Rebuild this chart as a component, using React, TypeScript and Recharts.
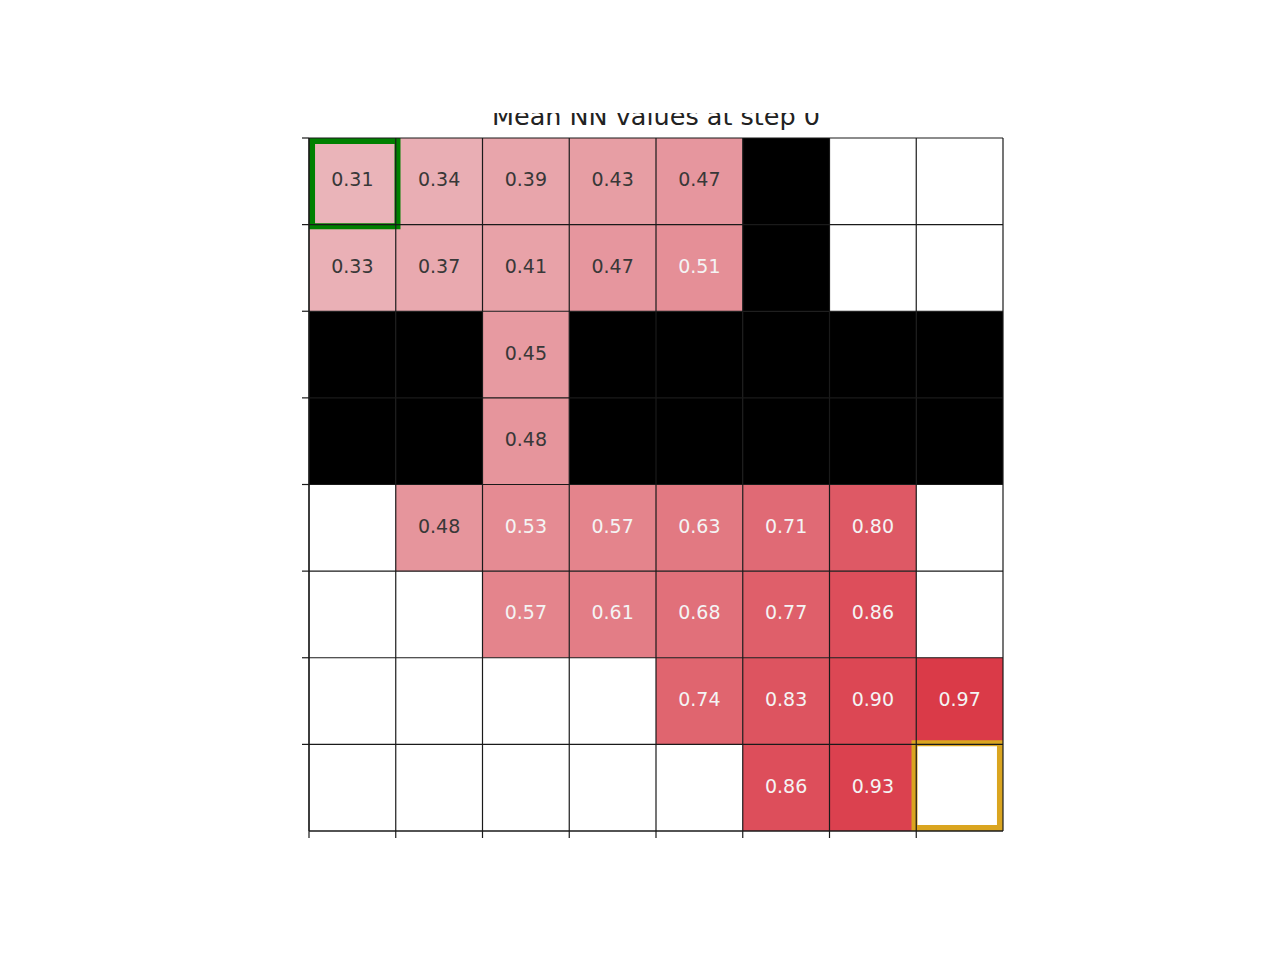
import React from 'react';
import { ScatterChart, XAxis, YAxis, ReferenceArea, ReferenceLine } from 'recharts';

const TITLE = 'Mean NN values at step 0';
const W = 'wall';
type Cell = number | 'wall' | null;

const row0: Cell[] = [0.31, 0.34, 0.39, 0.43, 0.47, W, null, null];
const row1: Cell[] = [0.33, 0.37, 0.41, 0.47, 0.51, W, null, null];
const row2: Cell[] = [W, W, 0.45, W, W, W, W, W];
const row3: Cell[] = [W, W, 0.48, W, W, W, W, W];
const row4: Cell[] = [null, 0.48, 0.53, 0.57, 0.63, 0.71, 0.80, null];
const row5: Cell[] = [null, null, 0.57, 0.61, 0.68, 0.77, 0.86, null];
const row6: Cell[] = [null, null, null, null, 0.74, 0.83, 0.90, 0.97];
const row7: Cell[] = [null, null, null, null, null, 0.86, 0.93, null];
const grid: Cell[][] = [row0, row1, row2, row3, row4, row5, row6, row7];

const axisTicks = [0, 1, 2, 3, 4, 5, 6, 7];
const gridLines = [0, 1, 2, 3, 4, 5, 6, 7, 8];

const startCell = { row: 0, col: 0 };
const goalCell = { row: 7, col: 7 };

const LO = [234, 180, 185];
const HI = [218, 58, 72];
const V_LO = 0.31;
const V_HI = 0.97;

function colorFor(v: number): string {
  const t = Math.max(0, Math.min(1, (v - V_LO) / (V_HI - V_LO)));
  const c = LO.map((a, i) => Math.round(a + (HI[i] - a) * t));
  return `rgb(${c[0]},${c[1]},${c[2]})`;
}

function makeLabel(text: string, color: string) {
  return (props: any) => {
    const vb = props.viewBox || {};
    const cx = (vb.x ?? 0) + (vb.width ?? 0) / 2;
    const cy = (vb.y ?? 0) + (vb.height ?? 0) / 2;
    return (
      <text
        x={cx}
        y={cy - 2}
        textAnchor="middle"
        dominantBaseline="central"
        fill={color}
        fontSize={19}
        fontFamily="DejaVu Sans"
      >
        {text}
      </text>
    );
  };
}

export default function App() {
  const areas: React.ReactNode[] = [];
  grid.forEach((row, r) => {
    row.forEach((cell, c) => {
      if (cell === null) return;
      if (cell === 'wall') {
        areas.push(
          <ReferenceArea key={`a${r}-${c}`} x1={c} x2={c + 1} y1={r} y2={r + 1} fill="#000" fillOpacity={1} stroke="none" />
        );
      } else {
        areas.push(
          <ReferenceArea
            key={`a${r}-${c}`}
            x1={c}
            x2={c + 1}
            y1={r}
            y2={r + 1}
            fill={colorFor(cell)}
            fillOpacity={1}
            stroke="none"
            label={{ content: makeLabel(cell.toFixed(2), cell >= 0.5 ? '#f4f4f4' : '#383838') }}
          />
        );
      }
    });
  });

  return (
    <div style={{ position: 'absolute', left: 0, top: 0, width: 1280, height: 960, background: '#fff' }}>
      <div
        style={{
          position: 'absolute',
          left: 309,
          top: 113,
          width: 694,
          height: 19,
          overflow: 'hidden',
        }}
      >
        <div
          style={{
            position: 'absolute',
            left: 0,
            top: -9,
            width: 694,
            textAlign: 'center',
            fontFamily: 'DejaVu Sans',
            fontSize: 25.5,
            lineHeight: '25px',
            color: '#222',
            whiteSpace: 'nowrap',
          }}
        >
          {TITLE}
        </div>
      </div>
      <ScatterChart width={1280} height={960} margin={{ top: 138, right: 277, bottom: 99, left: 279 }}>
        <XAxis
          type="number"
          dataKey="x"
          domain={[0, 8]}
          ticks={axisTicks}
          tickFormatter={() => ''}
          tickSize={7}
          height={30}
          axisLine={{ stroke: '#1a1a1a', strokeWidth: 1.2 }}
          tickLine={{ stroke: '#1a1a1a', strokeWidth: 1.2 }}
          allowDataOverflow
        />
        <YAxis
          type="number"
          dataKey="y"
          domain={[0, 8]}
          reversed
          ticks={axisTicks}
          tickFormatter={() => ''}
          tickSize={7}
          width={30}
          axisLine={{ stroke: '#1a1a1a', strokeWidth: 1.2 }}
          tickLine={{ stroke: '#1a1a1a', strokeWidth: 1.2 }}
          allowDataOverflow
        />
        {areas}
        <ReferenceArea
          x1={startCell.col + 0.035}
          x2={startCell.col + 1.02}
          y1={startCell.row + 0.035}
          y2={startCell.row + 1.02}
          fill="none"
          stroke="#008000"
          strokeWidth={6}
          ifOverflow="visible"
        />
        <ReferenceArea
          x1={goalCell.col - 0.02}
          x2={goalCell.col + 0.965}
          y1={goalCell.row - 0.014}
          y2={goalCell.row + 0.965}
          fill="none"
          stroke="#DAA520"
          strokeWidth={6}
          ifOverflow="visible"
        />
        {gridLines.map((g) => (
          <ReferenceLine key={`vx${g}`} x={g} stroke="#1a1a1a" strokeWidth={1.2} ifOverflow="visible" />
        ))}
        {gridLines.map((g) => (
          <ReferenceLine key={`hy${g}`} y={g} stroke="#1a1a1a" strokeWidth={1.2} ifOverflow="visible" />
        ))}
      </ScatterChart>
    </div>
  );
}
